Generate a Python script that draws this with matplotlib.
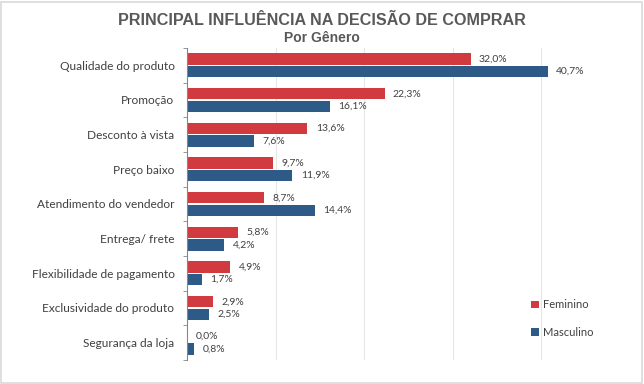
import matplotlib.pyplot as plt
import matplotlib.patches as mpatches
import numpy as np

# Dados do grafico
categorias = ['Qualidade do produto', 'Promoção', 'Desconto à vista', 'Preço baixo',
              'Atendimento do vendedor', 'Entrega/ frete', 'Flexibilidade de pagamento',
              'Exclusividade do produto', 'Segurança da loja']
feminino = [32.0, 22.3, 13.6, 9.7, 8.7, 5.8, 4.9, 2.9, 0.0]
masculino = [40.7, 16.1, 7.6, 11.9, 14.4, 4.2, 1.7, 2.5, 0.8]

cor_fem = '#D13B40'
cor_masc = '#2E5A87'
cor_texto = '#404040'

plt.rcParams['font.family'] = ['Lato', 'DejaVu Sans']

fig = plt.figure(figsize=(6.44, 3.84), dpi=100)
ax = fig.add_axes([187 / 644, 24 / 384, 443 / 644, 312 / 384])

n = len(categorias)
y = np.arange(n)
h = 0.33
b1 = ax.barh(y - 0.18, feminino, height=h, color=cor_fem, label='Feminino')
b2 = ax.barh(y + 0.18, masculino, height=h, color=cor_masc, label='Masculino')

for yi, v in zip(y, feminino):
    ax.annotate(f'{v:.1f}%'.replace('.', ','), (v, yi - 0.18), xytext=(6, 0),
                textcoords='offset points', va='center', ha='left',
                fontsize=7.5, color=cor_texto)
for yi, v in zip(y, masculino):
    ax.annotate(f'{v:.1f}%'.replace('.', ','), (v, yi + 0.18), xytext=(6, 0),
                textcoords='offset points', va='center', ha='left',
                fontsize=7.5, color=cor_texto)

ax.set_xlim(0, 50)
ax.set_ylim(n - 0.5, -0.5)
ax.set_xticks([10, 20, 30, 40, 50])
ax.tick_params(axis='x', length=0, labelbottom=False)
ax.grid(axis='x', color='#E6E6E6', linewidth=0.8)
ax.set_axisbelow(True)

# rotulos nas posicoes centrais, ticks nas divisas
ax.set_yticks(y)
ax.set_yticklabels(categorias, fontsize=8.6, color=cor_texto)
ax.tick_params(axis='y', which='major', length=0, pad=9)
ax.set_yticks(np.arange(-0.5, n, 1), minor=True)
ax.tick_params(axis='y', which='minor', length=3, color='#868686')

for s in ['top', 'right', 'bottom']:
    ax.spines[s].set_visible(False)
ax.spines['left'].set_color('#868686')

ax.legend(handles=[b1, b2], loc='lower left', bbox_to_anchor=(0.755, 0.04),
          frameon=False, handlelength=0.7, handleheight=0.7, handletextpad=0.3,
          labelspacing=1.45, fontsize=8, labelcolor=cor_texto)

fig.text(0.5, 0.947, 'PRINCIPAL INFLUÊNCIA NA DECISÃO DE COMPRAR', ha='center', va='center',
         fontsize=11.6, fontweight='bold', color='#595959',
         family=['Liberation Sans', 'DejaVu Sans'])
fig.text(0.5, 0.9, 'Por Gênero', ha='center', va='center',
         fontsize=10, fontweight='bold', color='#595959',
         family=['Liberation Sans', 'DejaVu Sans'])

fig.patches.append(mpatches.Rectangle((0.002, 0.003), 0.995, 0.993, transform=fig.transFigure,
                                      fill=False, edgecolor='#D9D9D9', linewidth=1.2))

plt.savefig('out.png', dpi=100)
